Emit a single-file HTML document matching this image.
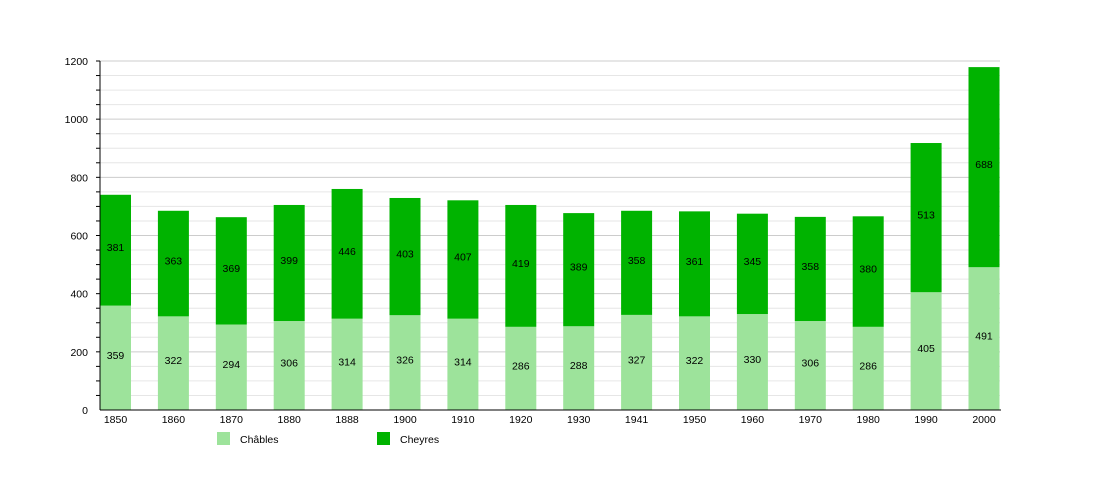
<!DOCTYPE html>
<html><head><meta charset="utf-8"><style>body{margin:0;background:#fff}svg{display:block}text{font-family:"Liberation Sans",sans-serif;font-size:10.5px;fill:#000}</style></head><body>
<svg width="1100" height="500" xmlns="http://www.w3.org/2000/svg" id="s"></svg>
<script>
const s=document.getElementById('s');let h='';
const y0=410,k=349/1200;
for(let v=50;v<=1200;v+=50){const y=y0-v*k;h+=`<line x1="100" x2="1000" y1="${y}" y2="${y}" stroke="${v%200==0?'#ccc':'#e6e6e6'}" stroke-width="1"/>`;h+=`<line x1="96" x2="100" y1="${y}" y2="${y}" stroke="#000"/>`;}
for(let v=0;v<=1200;v+=200){const y=y0-v*k;h+=`<text x="88" y="${y+4}" text-anchor="end">${v}</text>`;}
const yrs=[1850,1860,1870,1880,1888,1900,1910,1920,1930,1941,1950,1960,1970,1980,1990,2000];
const a=[359,322,294,306,314,326,314,286,288,327,322,330,306,286,405,491];
const b=[381,363,369,399,446,403,407,419,389,358,361,345,358,380,513,688];
yrs.forEach((yr,i)=>{const x=100+57.9*i,w=31,ha=a[i]*k,hb=b[i]*k;
h+=`<rect x="${x}" y="${y0-ha}" width="${w}" height="${ha}" fill="#9de39b"/>`;
h+=`<rect x="${x}" y="${y0-ha-hb}" width="${w}" height="${hb}" fill="#00b300"/>`;
h+=`<text x="${x+w/2}" y="${y0-ha/2+1}" text-anchor="middle">${a[i]}</text>`;
h+=`<text x="${x+w/2}" y="${y0-ha-hb/2+1}" text-anchor="middle">${b[i]}</text>`;
h+=`<text x="${x+w/2}" y="423" text-anchor="middle">${yr}</text>`;});
h+=`<line x1="100" x2="100" y1="61" y2="410" stroke="#000"/><line x1="100" x2="1001" y1="410" y2="410" stroke="#000"/>`;
h+=`<rect x="217" y="432" width="13" height="13" fill="#9de39b"/><text x="240" y="443">Châbles</text>`;
h+=`<rect x="377" y="432" width="13" height="13" fill="#00b300"/><text x="400" y="443">Cheyres</text>`;
s.innerHTML=h;
</script></body></html>
